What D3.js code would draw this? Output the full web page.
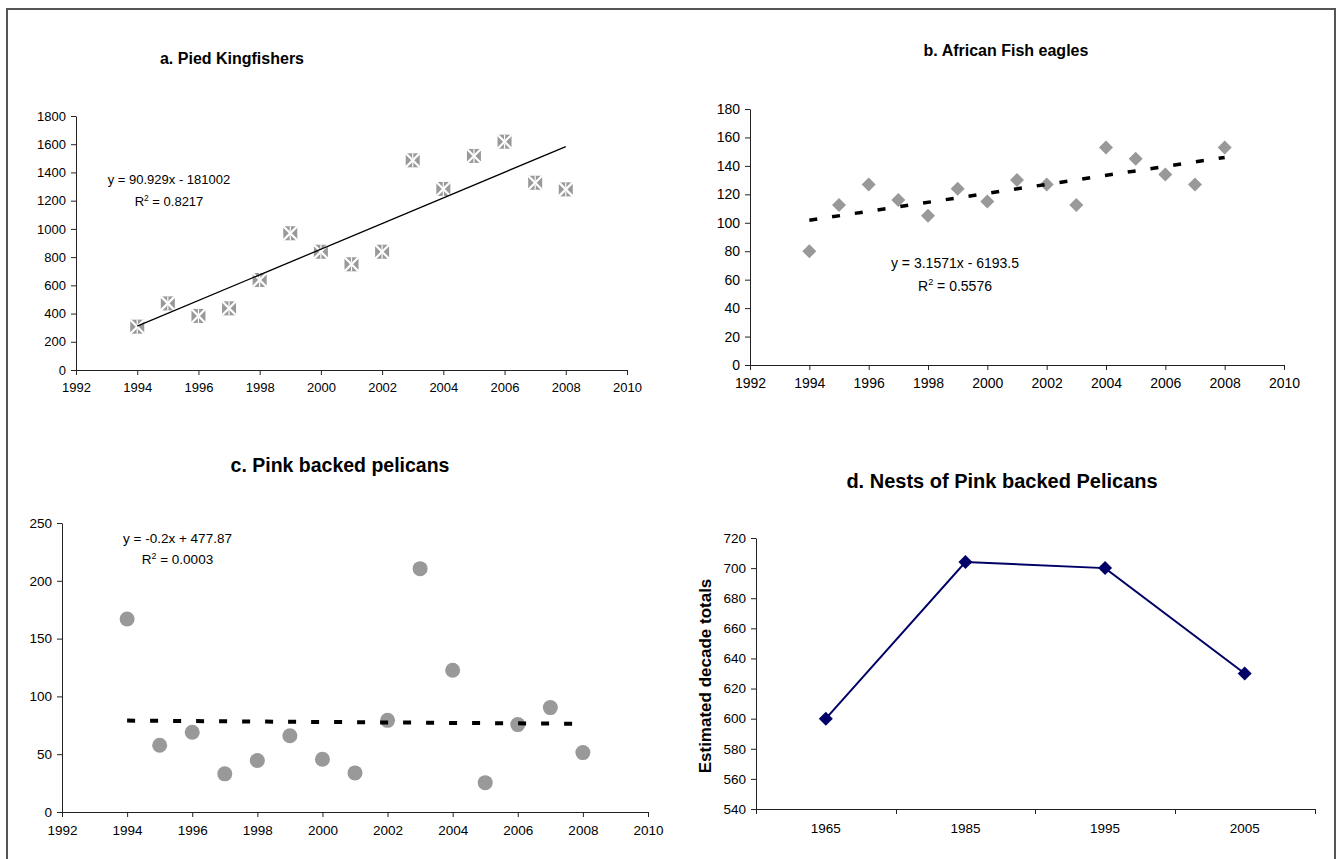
<!DOCTYPE html>
<html>
<head>
<meta charset="utf-8">
<script src="https://cdn.jsdelivr.net/npm/d3@7"></script>
<style>
body { margin: 0; background: #fff; }
svg { display: block; font-family: "Liberation Sans", Arial, sans-serif; }
</style>
</head>
<body>
<svg id="chart" width="1338" height="859"></svg>
<script>
// survey years used by panels a-c
var years = [1994, 1995, 1996, 1997, 1998, 1999, 2000, 2001, 2002, 2003, 2004, 2005, 2006, 2007, 2008];
var yearTicks = [1992, 1994, 1996, 1998, 2000, 2002, 2004, 2006, 2008, 2010];

var kingfishers = [307, 472, 383, 437, 638, 969, 838, 749, 838, 1486, 1283, 1517, 1618, 1327, 1280];
var kingfisherTrend = [90.929, -181002];   // slope, intercept (from the chart label)

var eagles = [80, 112.5, 127, 116, 105, 124, 115, 130, 127, 112.5, 153, 145, 134, 127, 153];
var eagleTrend = [3.1571, -6193.5];

var pelicans = [167, 57.7, 69, 33, 44.5, 66, 45.6, 33.8, 79.3, 210.5, 122.6, 25.4, 75.6, 90.3, 51.4];
var pelicanTrend = [-0.2, 477.87];

var nestDecades = ['1965', '1985', '1995', '2005'];
var nests = [600, 704, 700, 630];
var nestTicks = [540, 560, 580, 600, 620, 640, 660, 680, 700, 720];

var svg = d3.select('#chart');

// outer frame (bottom edge runs off the page)
svg.append('path')
    .attr('d', 'M7,870V9H1335V870')
    .attr('fill', 'none')
    .attr('stroke', '#555')
    .attr('stroke-width', 2);

function styleAxis(g, size) {
    g.attr('font-family', null).attr('font-size', size);
    g.selectAll('path, line').attr('stroke', '#222');
    g.selectAll('text').attr('fill', '#000');
}

function eqText(x, y1, y2, size, eq, r2) {
    svg.append('text').attr('x', x).attr('y', y1).attr('text-anchor', 'middle')
        .attr('font-size', size).text(eq);
    var t = svg.append('text').attr('x', x).attr('y', y2).attr('text-anchor', 'middle')
        .attr('font-size', size);
    t.append('tspan').text('R');
    t.append('tspan').attr('font-size', size * 0.65).attr('dy', -size * 0.4).text('2');
    t.append('tspan').attr('dy', size * 0.4).text(' = ' + r2);
}

function scatterPanel(o) {
    var x = d3.scaleLinear().domain([1992, 2010]).range([o.left, o.right]);
    var y = d3.scaleLinear().domain([0, o.max]).range([o.bottom, o.top]);

    svg.append('g').attr('transform', 'translate(0,' + o.bottom + ')')
        .call(d3.axisBottom(x).tickValues(yearTicks).tickFormat(d3.format('d')).tickSize(5).tickPadding(8).tickSizeOuter(0))
        .call(styleAxis, o.font);
    svg.append('g').attr('transform', 'translate(' + o.left + ',0)')
        .call(d3.axisLeft(y).tickValues(d3.range(0, o.max + 1, o.step)).tickFormat(d3.format('d'))
            .tickSize(5).tickPadding(5).tickSizeOuter(0))
        .call(styleAxis, o.font);

    svg.append('text').attr('x', o.titleX).attr('y', o.titleY).attr('text-anchor', 'middle')
        .attr('font-size', o.titleSize).attr('font-weight', 'bold').text(o.title);

    var pts = svg.append('g').selectAll('g').data(years).join('g')
        .attr('transform', function (d, i) { return 'translate(' + x(d) + ',' + y(o.values[i]) + ')'; });
    o.marker(pts);

    var trendYears = [years[0], years[years.length - 1]];
    svg.append('path')
        .attr('d', d3.line().x(function (d) { return x(d); })
            .y(function (d) { return y(o.trend[0] * d + o.trend[1]); })(trendYears))
        .attr('fill', 'none')
        .attr('stroke', '#000')
        .attr('stroke-width', o.trendWidth)
        .attr('stroke-dasharray', o.dash);

    eqText(o.eqX, o.eqY1, o.eqY2, o.font, o.eq, o.r2);
}

// a. Pied Kingfishers
scatterPanel({
    left: 76, right: 627, top: 116, bottom: 370, max: 1800, step: 200, font: 13,
    title: 'a. Pied Kingfishers', titleX: 232, titleY: 64, titleSize: 16,
    values: kingfishers, trend: kingfisherTrend, trendWidth: 1.3, dash: null,
    eq: 'y = 90.929x - 181002', r2: '0.8217', eqX: 169, eqY1: 184, eqY2: 206,
    marker: function (g) {
        g.append('rect').attr('x', -7).attr('y', -7).attr('width', 14).attr('height', 14).attr('fill', '#999');
        g.append('path').attr('d', 'M-7,-7L7,7M7,-7L-7,7').attr('stroke', '#fff').attr('stroke-width', 2.2);
        g.append('path').attr('d', 'M0,-7V-2M0,2V7').attr('stroke', '#fff').attr('stroke-width', 1.2);
    }
});

// b. African Fish eagles
scatterPanel({
    left: 750, right: 1284, top: 109, bottom: 365, max: 180, step: 20, font: 14,
    title: 'b. African Fish eagles', titleX: 1006, titleY: 56, titleSize: 16,
    values: eagles, trend: eagleTrend, trendWidth: 3.5, dash: '8,15',
    eq: 'y = 3.1571x - 6193.5', r2: '0.5576', eqX: 955, eqY1: 268, eqY2: 291,
    marker: function (g) {
        g.append('path').attr('d', 'M0,-7L7,0L0,7L-7,0Z').attr('fill', '#999');
    }
});

// c. Pink backed pelicans
scatterPanel({
    left: 62, right: 648, top: 523, bottom: 812, max: 250, step: 50, font: 13.5,
    title: 'c. Pink backed pelicans', titleX: 340, titleY: 472, titleSize: 19.5,
    values: pelicans, trend: pelicanTrend, trendWidth: 4, dash: '8,15',
    eq: 'y = -0.2x + 477.87', r2: '0.0003', eqX: 177.5, eqY1: 543, eqY2: 564,
    marker: function (g) {
        g.append('circle').attr('r', 7.5).attr('fill', '#999');
    }
});

// d. Nests of Pink backed Pelicans
(function () {
    var left = 756, right = 1314.5, top = 538, bottom = 809;
    var x = d3.scaleBand().domain(nestDecades).range([left, right]).padding(0);
    var y = d3.scaleLinear().domain([540, 720]).range([bottom, top]);

    svg.append('g').attr('transform', 'translate(' + left + ',0)')
        .call(d3.axisLeft(y).tickValues(nestTicks).tickSize(5).tickPadding(5).tickSizeOuter(0))
        .call(styleAxis, 13.5);

    var xa = svg.append('g').attr('transform', 'translate(0,' + bottom + ')')
        .call(d3.axisBottom(x).tickSize(0).tickPadding(14).tickSizeOuter(0))
        .call(styleAxis, 13.5);
    xa.selectAll('.tick line').remove();
    var bounds = nestDecades.map(function (d) { return x(d); }).concat([x.range()[1]]);
    xa.selectAll('line.bound').data(bounds).join('line').attr('class', 'bound')
        .attr('x1', function (d) { return Math.round(d) + 0.5; })
        .attr('x2', function (d) { return Math.round(d) + 0.5; })
        .attr('y1', 0).attr('y2', 5).attr('stroke', '#222');

    var cx = function (d) { return x(d) + x.bandwidth() / 2; };
    svg.append('path')
        .attr('d', d3.line().x(function (d) { return cx(d); })
            .y(function (d, i) { return y(nests[i]); })(nestDecades))
        .attr('fill', 'none').attr('stroke', '#000066').attr('stroke-width', 2);

    svg.append('g').selectAll('path').data(nestDecades).join('path')
        .attr('transform', function (d, i) { return 'translate(' + cx(d) + ',' + y(nests[i]) + ')'; })
        .attr('d', 'M0,-7L7,0L0,7L-7,0Z')
        .attr('fill', '#000066');

    svg.append('text').attr('x', 1002).attr('y', 488).attr('text-anchor', 'middle')
        .attr('font-size', 20).attr('font-weight', 'bold').text('d. Nests of Pink backed Pelicans');

    svg.append('text')
        .attr('transform', 'translate(705,676) rotate(-90)')
        .attr('text-anchor', 'middle').attr('dy', '0.35em')
        .attr('font-size', 17).attr('font-weight', 'bold').text('Estimated decade totals');
})();
</script>
</body>
</html>
